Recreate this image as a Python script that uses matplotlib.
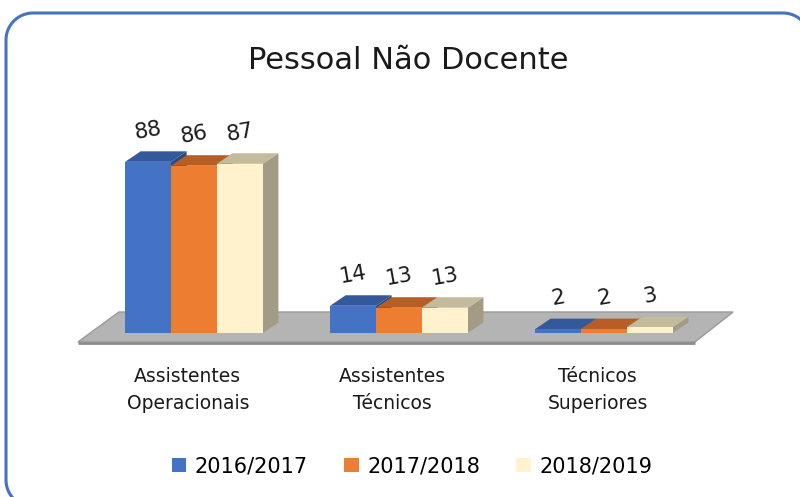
import numpy as np
import matplotlib
matplotlib.use('Agg')
import matplotlib.pyplot as plt
from matplotlib.patches import Polygon, Patch

categories = ['Assistentes\nOperacionais', 'Assistentes\nTécnicos', 'Técnicos\nSuperiores']
years = ['2016/2017', '2017/2018', '2018/2019']
values_1617 = [88, 14, 2]
values_1718 = [86, 13, 2]
values_1819 = [87, 13, 3]

front_colors = ['#4472C4', '#ED7D31', '#FFF2CC']
top_colors = ['#34599A', '#B65E24', '#C4BA9C']
side_colors = ['#2B4A80', '#9A4F1E', '#A39C84']

series = [values_1617, values_1718, values_1819]

fig = plt.figure(figsize=(8, 4.97), dpi=100)

# pseudo-3d bar area
ax = fig.add_axes([0.0759, 0.3065, 0.87125, 0.3953])
ax.set_xlim(-0.65, 2.75)
ax.set_ylim(-6, 95)
ax.axis('off')

w = 0.224      # bar width (category units)
dx = 0.076     # depth offset x
dy = 5.4       # depth offset y

# floor
floor = Polygon([(-0.566, -4.6), (2.444, -4.6), (2.63, 10.8), (-0.366, 10.8)],
                closed=True, facecolor='#B4B4B4', edgecolor='#9A9A9A', lw=1, zorder=1)
ax.add_patch(floor)
ax.plot([-0.566, 2.444], [-4.9, -4.9], color='#8C8C8C', lw=2, zorder=1.5,
        solid_capstyle='butt')

for i, vals in enumerate(series):
    offs = (i - 1) * w
    for j, v in enumerate(vals):
        x0 = j + offs - w / 2
        x1 = x0 + w
        z = 2 + i * 0.1
        side = Polygon([(x1, 0), (x1 + dx, dy), (x1 + dx, v + dy), (x1, v)],
                       closed=True, facecolor=side_colors[i], edgecolor='none', zorder=z)
        top = Polygon([(x0, v), (x1, v), (x1 + dx, v + dy), (x0 + dx, v + dy)],
                      closed=True, facecolor=top_colors[i], edgecolor='none', zorder=z)
        ax.add_patch(side)
        ax.add_patch(top)
    ax.bar([j + offs for j in range(len(vals))], vals, width=w,
           color=front_colors[i], zorder=2 + i * 0.1 + 0.05, linewidth=0)
    for j, v in enumerate(vals):
        ax.text(j + offs, v + 16, str(v), ha='center', va='center', fontsize=15.5,
                rotation=10, color='#1A1A1A', zorder=5, clip_on=False)

for j, cat in enumerate(categories):
    ax.text(j - 0.03, -17.5, cat, ha='center', va='top', fontsize=13.5,
            color='#1A1A1A', linespacing=1.5, clip_on=False)

fig.text(0.51, 0.878, 'Pessoal Não Docente', ha='center', va='center',
         fontsize=22, color='#1A1A1A')

handles = [Patch(facecolor=c, edgecolor='none') for c in front_colors]
fig.legend(handles, years, loc='center', bbox_to_anchor=(0.515, 0.062), ncol=3,
           frameon=False, fontsize=15, handlelength=0.7, handleheight=0.7,
           handletextpad=0.4, columnspacing=1.75)

# rounded border, pixel space with y pointing down
over = fig.add_axes([0, 0, 1, 1], facecolor='none')
over.set_xlim(0, 800)
over.set_ylim(497, 0)
over.axis('off')
left, top, right, bottom, r = 6, 13, 810, 507, 27
pts = []
for cx, cy, a0 in [(right - r, top + r, -90), (right - r, bottom - r, 0),
                   (left + r, bottom - r, 90), (left + r, top + r, 180)]:
    a = np.radians(np.linspace(a0, a0 + 90, 20))
    pts += list(zip(cx + r * np.cos(a), cy + r * np.sin(a)))
over.add_patch(Polygon(pts, closed=True, fill=False, edgecolor='#4472C4',
                       lw=2.2, joinstyle='round'))

fig.savefig('out.png', dpi=100)
